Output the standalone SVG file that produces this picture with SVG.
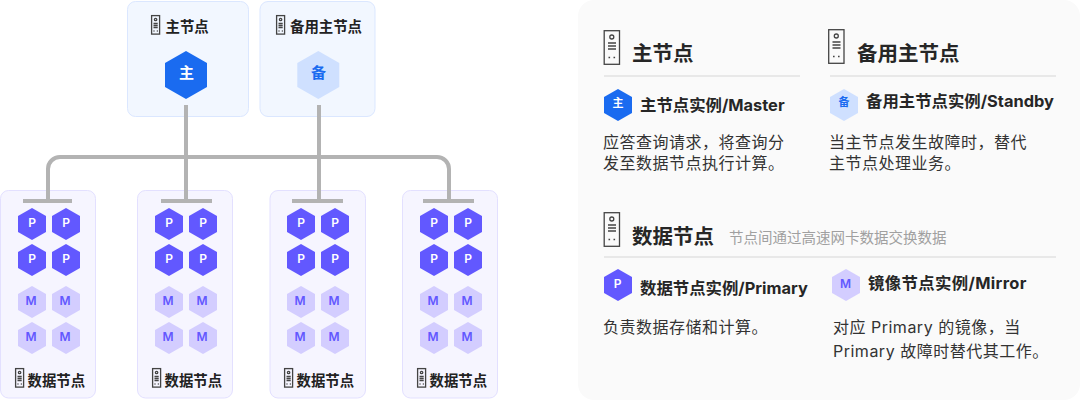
<svg xmlns="http://www.w3.org/2000/svg" width="1080" height="400" viewBox="0 0 1080 400">
<style>
text{font-family:"Inter","Noto Sans CJK SC",sans-serif;}
.card1{fill:#f2f7ff;stroke:#dbe7ff;stroke-width:1}
.card2{fill:#f6f5ff;stroke:#e3e0ff;stroke-width:1}
.line{fill:none;stroke:#b3b3b3;stroke-width:4}
.hl{font-size:14.4px;font-weight:700;fill:#222}
.p{font-size:12px;font-weight:600;fill:#fff;text-anchor:middle}
.m{font-size:12px;font-weight:600;fill:#6258ff;text-anchor:middle}
.h2{font-size:20.5px;font-weight:700;fill:#262626}
.h3{font-size:16.4px;font-weight:700;fill:#262626}
.b{font-size:16px;fill:#333;letter-spacing:.5px}
.div{stroke:#e8e8e8;stroke-width:2}
.srv{fill:none;stroke:#444;stroke-width:1.3}
</style>
<defs>
<polygon id="hex" points="0,-16 14,-8 14,8 0,16 -14,8 -14,-8"/>
<polygon id="hexL" points="0,-24 21,-12 21,12 0,24 -21,12 -21,-12"/>
<g id="srv"><rect class="srv" x="0.6" y="0.6" width="8" height="18.5"/><circle class="srv" cx="4.6" cy="4.5" r="1.2" stroke-width="1"/><path class="srv" stroke-width="1" d="M2.5 8.5h4.2M2.5 10.5h4.2M2.5 12.5h4.2"/><path class="srv" stroke-width="1" d="M2.5 16h1M5.8 16h1"/></g>
<g id="srvL"><rect class="srv" x="0.7" y="0.7" width="15.3" height="33.6"/><circle class="srv" cx="8.3" cy="7" r="2"/><path class="srv" d="M4.5 13h8M4.5 16h8M4.5 19h8M5 27.5h1.6M10 27.5h1.6"/></g>
</defs>
<g id="panel"><rect x="578" y="0" width="502" height="400" rx="16" fill="#fafafa"/></g>

<g id="node-master"><rect class="card1" x="127.500" y="1.500" width="121" height="115" rx="8"/><use href="#srv" x="151" y="15"/><text class="hl" x="165.500" y="32">主节点</text><use href="#hexL" x="186" y="75" fill="#1a6bf0"/><text x="186.500" y="78" font-size="15" font-weight="700" fill="#fff" text-anchor="middle">主</text></g>
<g id="node-standby"><rect class="card1" x="260" y="1.500" width="115" height="115" rx="8"/><use href="#srv" x="276" y="15"/><text class="hl" x="290" y="32">备用主节点</text><use href="#hexL" x="318.300" y="75" fill="#cfe0ff"/><text x="318.500" y="78" font-size="15" font-weight="700" fill="#1a6bf0" text-anchor="middle">备</text></g>

<g id="node-data1"><rect class="card2" x="0.500" y="190.500" width="95" height="207.500" rx="8"/>
<use href="#hex" x="32" y="224" fill="#6258ff"/><use href="#hex" x="66" y="224" fill="#6258ff"/><use href="#hex" x="32" y="260" fill="#6258ff"/><use href="#hex" x="66" y="260" fill="#6258ff"/>
<use href="#hex" x="32" y="302" fill="#d3cdff"/><use href="#hex" x="66" y="302" fill="#d3cdff"/><use href="#hex" x="32" y="338" fill="#d3cdff"/><use href="#hex" x="66" y="338" fill="#d3cdff"/>
<text class="p" x="32" y="227">P</text><text class="p" x="66" y="227">P</text><text class="p" x="32" y="263">P</text><text class="p" x="66" y="263">P</text>
<text class="m" x="31" y="304.500">M</text><text class="m" x="65" y="304.500">M</text><text class="m" x="31" y="340.500">M</text><text class="m" x="65" y="340.500">M</text>
<use href="#srv" x="15" y="368"/><text class="hl" x="27.500" y="386">数据节点</text></g>

<g id="node-data2"><rect class="card2" x="137.500" y="190.500" width="95" height="207.500" rx="8"/>
<use href="#hex" x="169" y="224" fill="#6258ff"/><use href="#hex" x="203" y="224" fill="#6258ff"/><use href="#hex" x="169" y="260" fill="#6258ff"/><use href="#hex" x="203" y="260" fill="#6258ff"/>
<use href="#hex" x="169" y="302" fill="#d3cdff"/><use href="#hex" x="203" y="302" fill="#d3cdff"/><use href="#hex" x="169" y="338" fill="#d3cdff"/><use href="#hex" x="203" y="338" fill="#d3cdff"/>
<text class="p" x="169" y="227">P</text><text class="p" x="203" y="227">P</text><text class="p" x="169" y="263">P</text><text class="p" x="203" y="263">P</text>
<text class="m" x="168" y="304.500">M</text><text class="m" x="202" y="304.500">M</text><text class="m" x="168" y="340.500">M</text><text class="m" x="202" y="340.500">M</text>
<use href="#srv" x="152" y="368"/><text class="hl" x="164.500" y="386">数据节点</text></g>

<g id="node-data3"><rect class="card2" x="270" y="190.500" width="95.500" height="207.500" rx="8"/>
<use href="#hex" x="301" y="224" fill="#6258ff"/><use href="#hex" x="335" y="224" fill="#6258ff"/><use href="#hex" x="301" y="260" fill="#6258ff"/><use href="#hex" x="335" y="260" fill="#6258ff"/>
<use href="#hex" x="301" y="302" fill="#d3cdff"/><use href="#hex" x="335" y="302" fill="#d3cdff"/><use href="#hex" x="301" y="338" fill="#d3cdff"/><use href="#hex" x="335" y="338" fill="#d3cdff"/>
<text class="p" x="301" y="227">P</text><text class="p" x="335" y="227">P</text><text class="p" x="301" y="263">P</text><text class="p" x="335" y="263">P</text>
<text class="m" x="300" y="304.500">M</text><text class="m" x="334" y="304.500">M</text><text class="m" x="300" y="340.500">M</text><text class="m" x="334" y="340.500">M</text>
<use href="#srv" x="284" y="368"/><text class="hl" x="296.500" y="386">数据节点</text></g>

<g id="node-data4"><rect class="card2" x="402.500" y="190.500" width="95" height="207.500" rx="8"/>
<use href="#hex" x="434" y="224" fill="#6258ff"/><use href="#hex" x="468" y="224" fill="#6258ff"/><use href="#hex" x="434" y="260" fill="#6258ff"/><use href="#hex" x="468" y="260" fill="#6258ff"/>
<use href="#hex" x="434" y="302" fill="#d3cdff"/><use href="#hex" x="468" y="302" fill="#d3cdff"/><use href="#hex" x="434" y="338" fill="#d3cdff"/><use href="#hex" x="468" y="338" fill="#d3cdff"/>
<text class="p" x="434" y="227">P</text><text class="p" x="468" y="227">P</text><text class="p" x="434" y="263">P</text><text class="p" x="468" y="263">P</text>
<text class="m" x="433" y="304.500">M</text><text class="m" x="467" y="304.500">M</text><text class="m" x="433" y="340.500">M</text><text class="m" x="467" y="340.500">M</text>
<use href="#srv" x="417" y="368"/><text class="hl" x="429.500" y="386">数据节点</text></g>

<g id="connectors">
<path class="line" d="M48 201V169A12 12 0 0 1 60 157H437A12 12 0 0 1 449 169V201"/>
<path class="line" d="M186 105V201M319 105V201"/>
<path class="line" d="M23 201H72M161 201H212M292 201H343M423 201H474"/>
</g>

<g id="legend-master"><use href="#srvL" x="603.500" y="30"/><text class="h2" x="632" y="61">主节点</text><line class="div" x1="604" y1="76" x2="800" y2="76"/>
<use href="#hex" x="618" y="105" fill="#1a6bf0"/><text x="618" y="107" font-size="11" font-weight="700" fill="#fff" text-anchor="middle">主</text><text class="h3" x="640" y="111">主节点实例/Master</text>
<text class="b" x="603" y="148">应答查询请求，将查询分</text><text class="b" x="603" y="168.500">发至数据节点执行计算。</text></g>

<g id="legend-standby"><use href="#srvL" x="828" y="29"/><text class="h2" x="857" y="61">备用主节点</text><line class="div" x1="830" y1="76" x2="1056" y2="76"/>
<use href="#hex" x="844" y="105" fill="#cfe0ff"/><text x="844" y="106" font-size="11" font-weight="700" fill="#1a6bf0" text-anchor="middle">备</text><text class="h3" x="866" y="107">备用主节点实例/Standby</text>
<text class="b" x="829" y="148">当主节点发生故障时，替代</text><text class="b" x="829" y="168.500">主节点处理业务。</text></g>

<g id="legend-data"><use href="#srvL" x="603.500" y="212"/><text class="h2" x="632" y="243.500">数据节点</text><text x="729" y="243" font-size="14.500" fill="#a0a0a0">节点间通过高速网卡数据交换数据</text><line class="div" x1="604" y1="257" x2="1056" y2="257"/>
<use href="#hex" x="618" y="285" fill="#6258ff"/><text x="617.500" y="288" font-size="12" font-weight="600" fill="#fff" text-anchor="middle">P</text><text class="h3" x="640" y="294">数据节点实例/Primary</text>
<text class="b" x="603" y="333">负责数据存储和计算。</text></g>

<g id="legend-mirror"><use href="#hex" x="846" y="285" fill="#d3cdff"/><text x="845.500" y="288" font-size="12" font-weight="600" fill="#6258ff" text-anchor="middle">M</text><text class="h3" x="868" y="289" letter-spacing=".35">镜像节点实例/Mirror</text>
<text class="b" x="833" y="333">对应 Primary 的镜像，当</text><text class="b" x="833" y="357">Primary 故障时替代其工作。</text></g>
</svg>
